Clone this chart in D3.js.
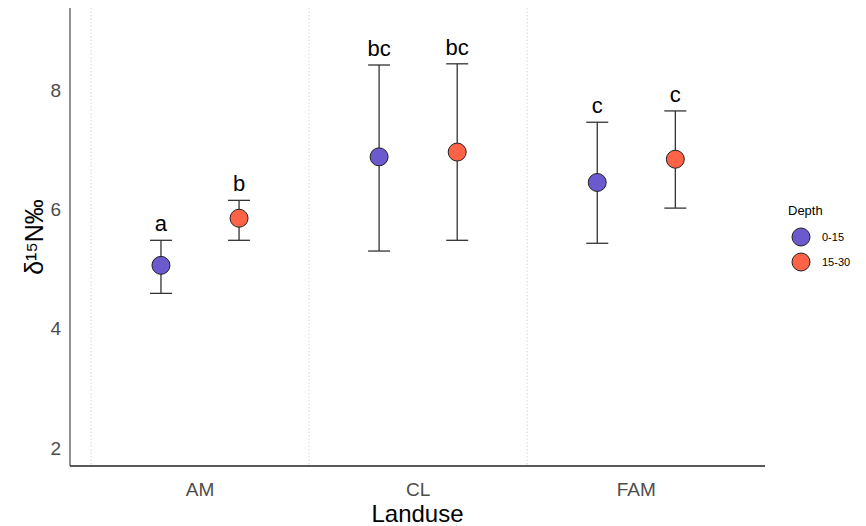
<!DOCTYPE html>
<html><head><meta charset="utf-8">
<script src="https://cdn.jsdelivr.net/npm/d3@7"></script>
<style>body{margin:0;background:#fff;} text{font-family:"Liberation Sans",Arial,sans-serif;}</style>
</head><body><svg id="c" width="866" height="526"></svg>
<script>
const categories = ["AM", "CL", "FAM"];
const depths = ["0-15", "15-30"];
const colors = ["#6A5ACD", "#FF6347"];
const mean0 = [5.06, 6.88, 6.45];
const lo0   = [4.59, 5.30, 5.43];
const hi0   = [5.48, 8.42, 7.46];
const mean1 = [5.85, 6.96, 6.84];
const lo1   = [5.48, 5.48, 6.02];
const hi1   = [6.15, 8.44, 7.65];
const letters0 = ["a", "bc", "c"];
const letters1 = ["b", "bc", "c"];
const yTicks = [2, 4, 6, 8];

const svg = d3.select("#c");
const L = 70, R = 765, T = 8, B = 466;
const x = d3.scaleLinear().domain([0.404, 3.59]).range([L, R]);
const y = d3.scaleLinear().domain([1.695, 9.376]).range([B, T]);
const dodge = 0.179;

// vertical dotted lines between categories
[0.5, 1.5, 2.5].forEach(v => {
  svg.append("line").attr("x1", x(v)).attr("x2", x(v)).attr("y1", T).attr("y2", B)
    .attr("stroke", "#cccccc").attr("stroke-width", 0.8).attr("stroke-dasharray", "1.5,2");
});

// axes
svg.append("line").attr("x1", L).attr("x2", L).attr("y1", T).attr("y2", B).attr("stroke", "#555").attr("stroke-width", 1.3);
svg.append("line").attr("x1", L).attr("x2", R).attr("y1", B).attr("y2", B).attr("stroke", "#222").attr("stroke-width", 1.3);

yTicks.forEach(t => {
  svg.append("text").attr("x", L - 9).attr("y", y(t)).attr("dy", "0.36em").attr("text-anchor", "end")
    .attr("font-size", 19).attr("fill", "#4d4d4d").text(t);
});
categories.forEach((c, i) => {
  svg.append("text").attr("x", x(i + 1)).attr("y", 496).attr("text-anchor", "middle")
    .attr("font-size", 19).attr("fill", "#4d4d4d").text(c);
});

svg.append("text").attr("x", (L + R) / 2).attr("y", 522).attr("text-anchor", "middle")
  .attr("font-size", 24).attr("fill", "#000").text("Landuse");
svg.append("text").attr("transform", `translate(43,${(T + B) / 2}) rotate(-90)`).attr("text-anchor", "middle")
  .attr("font-size", 25).attr("fill", "#000").text("δ¹⁵N‰");

const series = [
  {mean: mean0, lo: lo0, hi: hi0, letters: letters0, off: -dodge, color: colors[0]},
  {mean: mean1, lo: lo1, hi: hi1, letters: letters1, off: dodge, color: colors[1]}
];
series.forEach(s => {
  categories.forEach((c, i) => {
    const cx = x(i + 1 + s.off);
    const g = svg.append("g");
    g.append("line").attr("x1", cx).attr("x2", cx).attr("y1", y(s.lo[i])).attr("y2", y(s.hi[i])).attr("stroke", "#333").attr("stroke-width", 1.3);
    [s.lo[i], s.hi[i]].forEach(v => {
      g.append("line").attr("x1", cx - 11).attr("x2", cx + 11).attr("y1", y(v)).attr("y2", y(v)).attr("stroke", "#333").attr("stroke-width", 1.3);
    });
    g.append("circle").attr("cx", cx).attr("cy", y(s.mean[i])).attr("r", 9).attr("fill", s.color).attr("stroke", "#222").attr("stroke-width", 1);
    g.append("text").attr("x", cx).attr("y", y(s.hi[i]) - 9).attr("text-anchor", "middle")
      .attr("font-size", 22).attr("fill", "#000").text(s.letters[i]);
  });
});

// legend
svg.append("text").attr("x", 788).attr("y", 215).attr("font-size", 13).attr("fill", "#000").text("Depth");
depths.forEach((d, i) => {
  const cy = 237 + i * 25;
  svg.append("circle").attr("cx", 801).attr("cy", cy).attr("r", 9).attr("fill", colors[i]).attr("stroke", "#222").attr("stroke-width", 1);
  svg.append("text").attr("x", 822).attr("y", cy).attr("dy", "0.35em").attr("font-size", 11).attr("fill", "#000").text(d);
});
</script></body></html>
